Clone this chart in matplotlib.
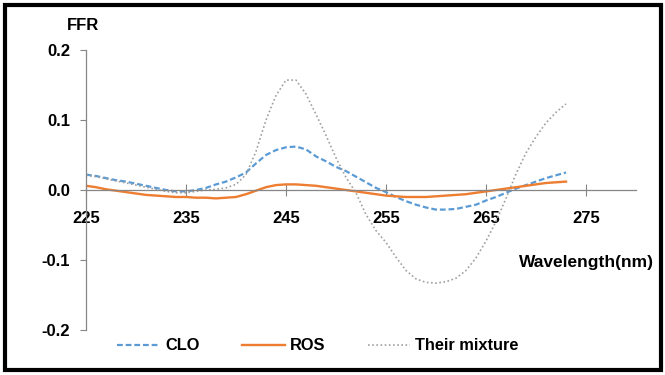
import numpy as np
import matplotlib
matplotlib.use("Agg")
import matplotlib.pyplot as plt
from matplotlib.patches import Rectangle

plt.rcParams["font.family"] = ["Liberation Sans", "DejaVu Sans"]
plt.rcParams["font.weight"] = "bold"

wavelength = list(range(225, 274))

clo = [0.022, 0.020, 0.017, 0.014, 0.012, 0.009, 0.006, 0.003, 0.000, -0.002,
       -0.002, 0.000, 0.003, 0.008, 0.012, 0.018, 0.025, 0.038, 0.050, 0.057,
       0.061, 0.062, 0.058, 0.048, 0.041, 0.033, 0.027, 0.019, 0.011, 0.003,
       -0.003, -0.010, -0.016, -0.021, -0.025, -0.028, -0.028, -0.027, -0.024, -0.021,
       -0.015, -0.010, -0.004, 0.002, 0.007, 0.012, 0.017, 0.021, 0.025]

ros = [0.006, 0.004, 0.001, -0.001, -0.003, -0.005, -0.007, -0.008, -0.009, -0.010,
       -0.010, -0.011, -0.011, -0.012, -0.011, -0.010, -0.006, -0.001, 0.004, 0.007,
       0.008, 0.008, 0.007, 0.006, 0.004, 0.002, 0.000, -0.002, -0.004, -0.006,
       -0.008, -0.009, -0.010, -0.010, -0.010, -0.009, -0.008, -0.007, -0.006, -0.004,
       -0.002, 0.000, 0.002, 0.004, 0.006, 0.008, 0.010, 0.011, 0.012]

mixture = [0.021, 0.019, 0.016, 0.013, 0.010, 0.007, 0.004, 0.001, -0.002, -0.004,
           -0.004, -0.002, 0.000, 0.001, 0.003, 0.008, 0.022, 0.055, 0.100, 0.135,
           0.157, 0.157, 0.137, 0.108, 0.078, 0.046, 0.018, -0.004, -0.035, -0.058,
           -0.075, -0.096, -0.115, -0.127, -0.132, -0.133, -0.131, -0.126, -0.115, -0.097,
           -0.073, -0.045, -0.012, 0.023, 0.053, 0.076, 0.096, 0.111, 0.123]

x_ticks = [225, 235, 245, 255, 265, 275]
y_ticks = [-0.2, -0.1, 0.0, 0.1, 0.2]

fig = plt.figure(figsize=(6.65, 3.75), dpi=100)
ax = fig.add_axes([0.1293, 0.12, 0.8271, 0.7467])

grey = "#868686"
ax.plot(wavelength, clo, color="#5B9BD5", lw=1.6, dashes=(2.6, 1.3), label="CLO")
ax.plot(wavelength, ros, color="#ED7D31", lw=1.7, label="ROS")
ax.plot(wavelength, mixture, color="#A0A0A0", lw=1.2, dashes=(1, 1.5), label="Their mixture")

ax.set_xlim(225, 280)
ax.set_ylim(-0.2, 0.2)
ax.set_xticks(x_ticks)
ax.set_yticks(y_ticks)
ax.set_yticklabels(["-0.2", "-0.1", "0.0", "0.1", "0.2"])

for s in ["top", "right"]:
    ax.spines[s].set_visible(False)
ax.spines["bottom"].set_position(("data", 0))
for s in ["left", "bottom"]:
    ax.spines[s].set_color(grey)
    ax.spines[s].set_linewidth(0.9)

ax.tick_params(axis="y", direction="out", length=4.5, width=0.8, color=grey,
               pad=7, labelsize=12)
ax.tick_params(axis="x", direction="inout", length=8, width=0.8, color=grey,
               pad=11, labelsize=12)
for lab in ax.get_xticklabels() + ax.get_yticklabels():
    lab.set_fontweight("bold")

fig.text(83 / 665, 1 - 25 / 375, "FFR", ha="center", va="center",
         fontsize=12, fontweight="bold")
fig.text(586 / 665, 1 - 262 / 375, "Wavelength(nm)", ha="center", va="center",
         fontsize=12.5, fontweight="bold")

fig.legend(loc="center", bbox_to_anchor=(318 / 665, 1 - 346 / 375), ncol=3,
           frameon=False, handlelength=2.6, handletextpad=0.3,
           columnspacing=2.6, prop={"weight": "bold", "size": 11.8})

fig.patches.append(Rectangle((5 / 665, 5 / 375), 656 / 665, 365 / 375,
                             transform=fig.transFigure, fill=False,
                             edgecolor="black", lw=3))

fig.savefig("out.png", dpi=100)
